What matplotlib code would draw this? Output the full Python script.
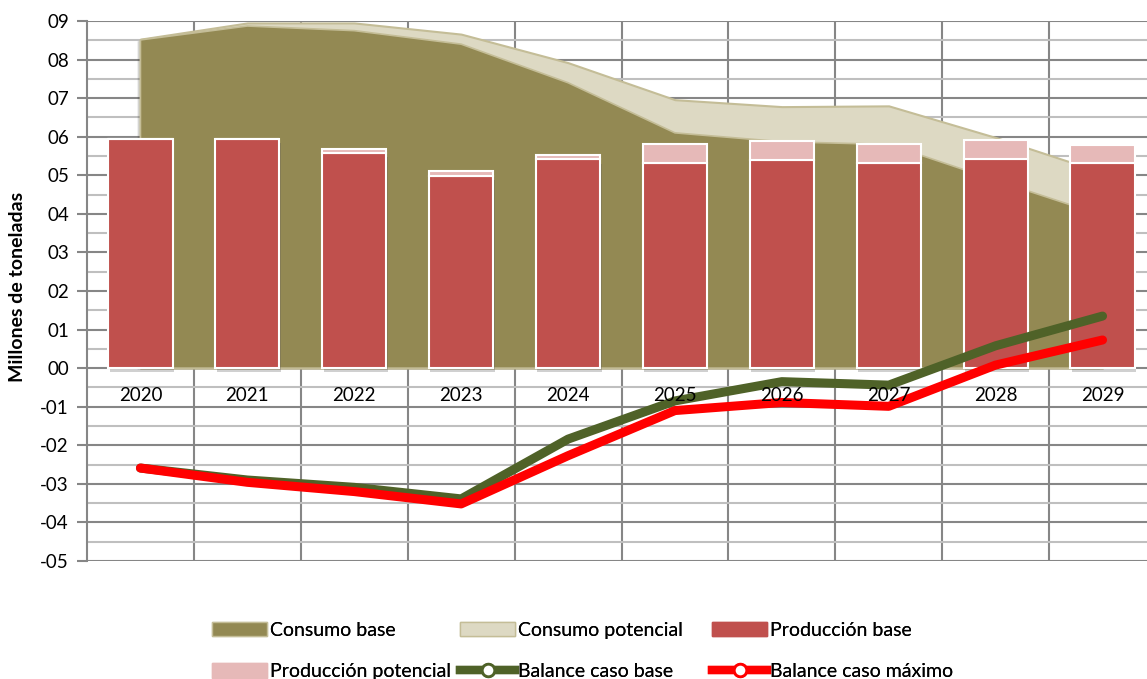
import matplotlib
matplotlib.use("Agg")
import matplotlib.pyplot as plt
import matplotlib.patheffects as pe
from matplotlib.patches import Patch
from matplotlib.lines import Line2D
from matplotlib.ticker import FixedLocator, FuncFormatter

plt.rcParams['font.family'] = ['Lato', 'DejaVu Sans']

years = ["2020", "2021", "2022", "2023", "2024", "2025", "2026", "2027", "2028", "2029"]
consumo_base = [8.51, 8.87, 8.75, 8.40, 7.40, 6.10, 5.87, 5.80, 4.87, 3.96]
consumo_potencial = [8.53, 8.95, 8.95, 8.66, 7.92, 6.96, 6.78, 6.80, 5.98, 5.07]
produccion_base = [5.93, 5.95, 5.57, 4.99, 5.41, 5.32, 5.40, 5.32, 5.43, 5.32]
produccion_potencial = [0.0, 0.0, 0.12, 0.11, 0.12, 0.50, 0.49, 0.48, 0.48, 0.47]
balance_base = [-2.59, -2.90, -3.09, -3.39, -1.84, -0.85, -0.35, -0.44, 0.58, 1.35]
balance_maximo = [-2.59, -2.96, -3.20, -3.52, -2.27, -1.10, -0.89, -0.99, 0.08, 0.73]

c_cons_base = "#938953"
c_cons_pot = "#DDD9C3"
c_cons_edge = "#C4BD97"
c_prod_base = "#C0504D"
c_prod_pot = "#E6B9B8"
c_bal_base = "#4F6228"
c_bal_max = "#FF0000"
c_grid = "#868686"
c_grid_minor = "#BFBFBF"

W, H = 1147, 679
fig = plt.figure(figsize=(W / 100, H / 100), dpi=100)
left, right, top, bottom = 87, 1156, 21, 561
ax = fig.add_axes([left / W, 1 - bottom / H, (right - left) / W, (bottom - top) / H])

x = list(range(len(years)))

# areas
ax.fill_between(x, 0, consumo_potencial, facecolor=c_cons_pot, edgecolor=c_cons_edge,
                linewidth=1.5, zorder=2)
ax.fill_between(x, 0, consumo_base, facecolor=c_cons_base, edgecolor=c_cons_edge,
                linewidth=1.2, zorder=3,
                path_effects=[pe.SimplePatchShadow(offset=(-2, -1), alpha=0.2), pe.Normal()])

# bars
shadow = [pe.SimplePatchShadow(offset=(1, -3), shadow_rgbFace="#444444", alpha=0.25), pe.Normal()]
bw = 0.6
b1 = ax.bar(x, produccion_base, width=bw, color=c_prod_base, edgecolor="white",
            linewidth=1.5, zorder=4)
b2 = ax.bar(x, produccion_potencial, width=bw, bottom=produccion_base, color=c_prod_pot,
            edgecolor="white", linewidth=1.5, zorder=4)
for r1 in b1:
    r1.set_path_effects(shadow)

# lines
ax.plot(x, balance_base, color=c_bal_base, linewidth=6.5, solid_capstyle='round',
        solid_joinstyle='round', zorder=6)
ax.plot(x, balance_maximo, color=c_bal_max, linewidth=6.5, solid_capstyle='round',
        solid_joinstyle='round', zorder=7)

# axes
ax.set_xlim(-0.5, len(years) - 0.5)
ax.set_ylim(-5, 9)
ax.yaxis.set_major_locator(FixedLocator(list(range(-5, 10))))
ax.yaxis.set_minor_locator(FixedLocator([v + 0.5 for v in range(-5, 9)]))


def yfmt(v, pos):
    v = int(round(v))
    return f"{v:02d}" if v >= 0 else f"-{abs(v):02d}"


ax.yaxis.set_major_formatter(FuncFormatter(yfmt))
ax.tick_params(axis='y', which='major', length=7, width=1.5, color=c_grid, pad=6,
               labelsize=13.5)
ax.tick_params(axis='y', which='minor', length=0)
ax.xaxis.set_major_locator(FixedLocator([]))
ax.xaxis.set_minor_locator(FixedLocator([i + 0.5 for i in range(len(years))]))
ax.tick_params(axis='x', which='both', length=0, labelbottom=False)

ax.grid(True, axis='y', which='major', color=c_grid, linewidth=1.5, zorder=0)
ax.grid(True, axis='y', which='minor', color=c_grid_minor, linewidth=1.5, zorder=0)
ax.grid(True, axis='x', which='minor', color=c_grid, linewidth=1.5, zorder=0)
ax.set_axisbelow(True)
for s in ['top', 'right', 'bottom']:
    ax.spines[s].set_visible(False)
ax.spines['left'].set_color(c_grid)
ax.spines['left'].set_linewidth(1.5)

for i, yr in enumerate(years):
    ax.text(i, -0.72, yr, ha='center', va='center', fontsize=13.5, zorder=8)

fig.text(18 / W, 1 - 287 / H, "Millones de toneladas", rotation=90, ha='center',
         va='center', fontsize=14, fontweight='bold')

# legend in three columns
handles_cols = [
    [Patch(facecolor=c_cons_base, edgecolor=c_cons_edge), Patch(facecolor=c_prod_pot, edgecolor=c_prod_pot)],
    [Patch(facecolor=c_cons_pot, edgecolor=c_cons_edge),
     Line2D([], [], color=c_bal_base, linewidth=6, marker='o', markersize=9,
            markerfacecolor='white', markeredgecolor=c_bal_base, markeredgewidth=2)],
    [Patch(facecolor=c_prod_base, edgecolor=c_prod_base),
     Line2D([], [], color=c_bal_max, linewidth=6, marker='o', markersize=9,
            markerfacecolor='white', markeredgecolor=c_bal_max, markeredgewidth=2)],
]
labels_cols = [
    ["Consumo base", "Producción potencial"],
    ["Consumo potencial", "Balance caso base"],
    ["Producción base", "Balance caso máximo"],
]
col_x = [212, 460, 712]
for hx, hs, ls in zip(col_x, handles_cols, labels_cols):
    leg = fig.legend(hs, ls, loc='upper left', bbox_to_anchor=(hx / W, 1 - 622 / H),
                     frameon=False, fontsize=14, handlelength=2.85, handleheight=0.75,
                     handletextpad=0.15, labelspacing=1.25, borderpad=0, borderaxespad=0)
    fig.add_artist(leg)

fig.savefig("out.png", dpi=100)
